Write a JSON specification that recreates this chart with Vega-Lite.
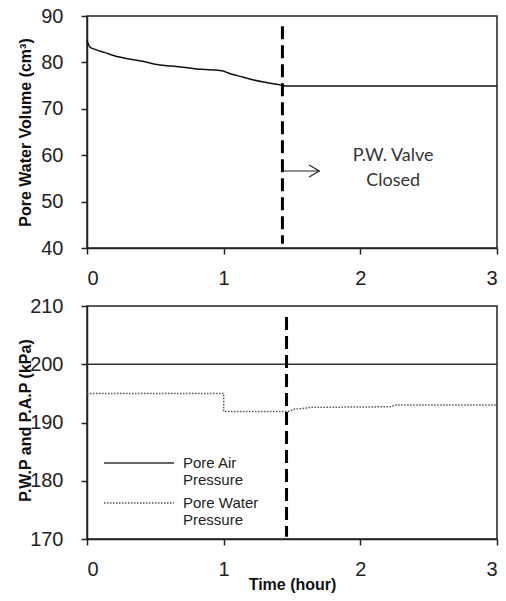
{
  "$schema": "https://vega.github.io/schema/vega-lite/v6.json",
  "padding": {"left": 16, "top": 5, "right": 5, "bottom": 5},
  "spacing": 6,
  "background": "white",
  "config": {
    "view": {"stroke": "#222", "strokeWidth": 1.5},
    "axis": {
      "domainColor": "#222", "domainWidth": 1.5, "tickColor": "#222", "tickWidth": 1.5, "tickSize": 6,
      "grid": false, "labelFont": "Liberation Sans", "labelFontSize": 20, "labelColor": "#222",
      "titleFont": "Liberation Sans", "titleFontSize": 16, "titleFontWeight": "bold", "titleColor": "#111",
      "labelPadding": 14
    },
    "axisY": {"labelPadding": 18}
  },
  "datasets": {
    "volume": [
      {"hour": 0.0, "volume": 84.8},
      {"hour": 0.022, "volume": 83.3},
      {"hour": 0.059, "volume": 82.8},
      {"hour": 0.132, "volume": 82.1},
      {"hour": 0.229, "volume": 81.2},
      {"hour": 0.351, "volume": 80.5},
      {"hour": 0.424, "volume": 80.15},
      {"hour": 0.498, "volume": 79.6},
      {"hour": 0.62, "volume": 79.2},
      {"hour": 0.717, "volume": 78.9},
      {"hour": 0.839, "volume": 78.5},
      {"hour": 0.961, "volume": 78.3},
      {"hour": 0.997, "volume": 78.15},
      {"hour": 1.034, "volume": 77.7},
      {"hour": 1.107, "volume": 77.1},
      {"hour": 1.205, "volume": 76.3},
      {"hour": 1.302, "volume": 75.7},
      {"hour": 1.425, "volume": 75.1},
      {"hour": 1.46, "volume": 74.9},
      {"hour": 3.0, "volume": 74.9}
    ],
    "pressure": [
      {"i": 1, "hour": 0.0, "kpa": 200.0, "series": "Pore Air Pressure"},
      {"i": 2, "hour": 3.0, "kpa": 200.0, "series": "Pore Air Pressure"},
      {"i": 1, "hour": 0.0, "kpa": 195.0, "series": "Pore Water Pressure"},
      {"i": 2, "hour": 1.0, "kpa": 195.0, "series": "Pore Water Pressure"},
      {"i": 3, "hour": 1.0, "kpa": 191.9, "series": "Pore Water Pressure"},
      {"i": 4, "hour": 1.47, "kpa": 191.9, "series": "Pore Water Pressure"},
      {"i": 5, "hour": 1.52, "kpa": 192.3, "series": "Pore Water Pressure"},
      {"i": 6, "hour": 1.58, "kpa": 192.4, "series": "Pore Water Pressure"},
      {"i": 7, "hour": 1.64, "kpa": 192.6, "series": "Pore Water Pressure"},
      {"i": 8, "hour": 2.22, "kpa": 192.7, "series": "Pore Water Pressure"},
      {"i": 9, "hour": 2.26, "kpa": 193.0, "series": "Pore Water Pressure"},
      {"i": 10, "hour": 3.0, "kpa": 193.0, "series": "Pore Water Pressure"}
    ],
    "valveTop": [{"hour": 1.43, "y1": 87.8, "y2": 40.9}],
    "valveBottom": [{"hour": 1.46, "y1": 208.1, "y2": 170.4}],
    "arrow": [{"x1": 1.43, "x2": 1.7, "y": 56.6}],
    "arrowHead": [{"hour": 1.7, "y": 56.6}],
    "note": [
      {"hour": 2.24, "y": 59.8, "label": "P.W. Valve"},
      {"hour": 2.24, "y": 54.4, "label": "Closed"}
    ]
  },
  "vconcat": [
    {
      "width": 410,
      "height": 232,
      "layer": [
        {
          "data": {"name": "volume"},
          "mark": {"type": "line", "color": "#111", "strokeWidth": 1.5, "interpolate": "monotone"},
          "encoding": {
            "x": {"field": "hour", "type": "quantitative", "scale": {"domain": [0, 3], "nice": false},
                  "axis": {"values": [0, 1, 2, 3], "format": "d", "title": null}},
            "y": {"field": "volume", "type": "quantitative", "scale": {"domain": [40, 90], "nice": false, "zero": false},
                  "axis": {"values": [40, 50, 60, 70, 80, 90], "title": "Pore Water Volume (cm³)",
                           "titleX": -62, "titleY": 116, "titleBaseline": "middle", "titleAngle": -90}}
          }
        },
        {
          "data": {"name": "valveTop"},
          "mark": {"type": "rule", "strokeDash": [13, 6], "strokeWidth": 3, "color": "#000"},
          "encoding": {
            "x": {"field": "hour", "type": "quantitative"},
            "y": {"field": "y1", "type": "quantitative"},
            "y2": {"field": "y2"}
          }
        },
        {
          "data": {"name": "arrow"},
          "mark": {"type": "rule", "strokeWidth": 1.2, "color": "#222"},
          "encoding": {
            "x": {"field": "x1", "type": "quantitative"},
            "x2": {"field": "x2"},
            "y": {"field": "y", "type": "quantitative"}
          }
        },
        {
          "data": {"name": "arrowHead"},
          "mark": {"type": "point", "shape": "M-1.7,-1L0,0L-1.7,1", "size": 144, "filled": false, "stroke": "#222", "strokeWidth": 1.2, "opacity": 1},
          "encoding": {
            "x": {"field": "hour", "type": "quantitative"},
            "y": {"field": "y", "type": "quantitative"}
          }
        },
        {
          "data": {"name": "note"},
          "mark": {"type": "text", "font": "Lato", "fontSize": 18, "color": "#333", "align": "center", "baseline": "middle"},
          "encoding": {
            "x": {"field": "hour", "type": "quantitative"},
            "y": {"field": "y", "type": "quantitative"},
            "text": {"field": "label"}
          }
        }
      ]
    },
    {
      "width": 410,
      "height": 233,
      "layer": [
        {
          "data": {"name": "pressure"},
          "mark": {"type": "line", "strokeWidth": 1.5},
          "encoding": {
            "x": {"field": "hour", "type": "quantitative", "scale": {"domain": [0, 3], "nice": false},
                  "axis": {"values": [0, 1, 2, 3], "format": "d", "title": "Time (hour)", "titleX": 205, "titleY": 45, "titleBaseline": "middle"}},
            "y": {"field": "kpa", "type": "quantitative", "scale": {"domain": [170, 210], "nice": false, "zero": false},
                  "axis": {"values": [170, 180, 190, 200, 210], "title": "P.W.P and P.A.P (kPa)",
                           "titleX": -62, "titleY": 114, "titleBaseline": "middle", "titleAngle": -90}},
            "order": {"field": "i", "type": "quantitative"},
            "color": {"field": "series", "type": "nominal",
                      "scale": {"domain": ["Pore Air Pressure", "Pore Water Pressure"], "range": ["#333", "#555"]},
                      "legend": {"title": null, "orient": "none", "legendX": 37, "legendY": 432,
                                 "symbolType": "M-2.5,0L2.5,0", "symbolSize": 784, "symbolStrokeWidth": 1.5,
                                 "symbolFillColor": "transparent",
                                 "labelFont": "Liberation Sans", "labelFontSize": 15, "labelColor": "#222",
                                 "labelLimit": 0, "labelOffset": 29, "rowPadding": 0, "padding": 0, "labelLineHeight": 21,
                                 "labelExpr": "datum.label == 'Pore Air Pressure' ? ['Pore Air', 'Pressure'] : ['Pore Water', 'Pressure']"}},
            "strokeDash": {"field": "series", "type": "nominal",
                           "scale": {"domain": ["Pore Air Pressure", "Pore Water Pressure"], "range": [[1, 0], [1.5, 1.5]]},
                           "legend": {"title": null}}
          }
        },
        {
          "data": {"name": "valveBottom"},
          "mark": {"type": "rule", "strokeDash": [13, 6], "strokeWidth": 3, "color": "#000"},
          "encoding": {
            "x": {"field": "hour", "type": "quantitative"},
            "y": {"field": "y1", "type": "quantitative"},
            "y2": {"field": "y2"}
          }
        }
      ]
    }
  ]
}
